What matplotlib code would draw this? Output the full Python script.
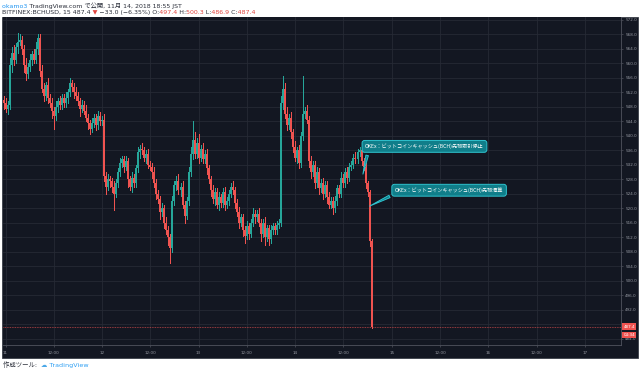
import matplotlib
matplotlib.use('Agg')
import matplotlib.pyplot as plt
from matplotlib.patches import Rectangle
from matplotlib.transforms import Bbox, TransformedBbox

# BCHUSD, 30-minute candles (starting Nov 10 23:30)
first_open = 550.0
closes = [
    549.0, 547.5, 548.5, 559.5, 563.0, 561.0, 564.5, 566.0, 566.5, 564.0,
    559.5, 557.0, 559.0, 561.0, 562.5, 561.0, 564.0, 567.0, 558.0, 553.0,
    551.0, 554.0, 550.5, 549.0, 547.0, 545.5, 548.0, 549.5, 548.5, 550.5,
    549.0, 550.5, 552.0, 554.5, 553.5, 552.0, 551.0, 549.5, 547.5, 548.5,
    547.0, 545.0, 543.5, 542.0, 543.5, 545.0, 543.0, 545.5, 544.0, 544.5,
    529.0, 526.0, 528.0, 527.5, 526.0, 524.0, 527.0, 530.0, 532.5, 533.5,
    531.5, 533.0, 528.0, 526.0, 528.5, 527.0, 531.0, 535.5, 536.5, 536.0,
    534.0, 535.0, 532.0, 531.5, 530.0, 527.0, 524.0, 522.5, 519.0, 520.0,
    516.0, 514.0, 512.0, 509.0, 522.0, 526.5, 527.5, 525.0, 526.0, 521.0,
    518.0, 522.0, 530.0, 535.0, 539.0, 535.0, 538.0, 534.0, 536.5, 533.5,
    535.0, 531.0, 528.0, 525.0, 522.5, 524.5, 521.0, 523.0, 521.5, 524.5,
    521.0, 522.0, 524.0, 526.0, 525.0, 521.5, 519.0, 516.0, 517.5, 514.0,
    512.5, 515.0, 513.0, 516.0, 518.5, 517.5, 518.5, 516.0, 513.0, 516.0,
    512.0, 514.5, 511.5, 514.0, 515.0, 514.0, 515.5, 516.0, 549.0, 553.0,
    546.0, 543.0, 545.0, 541.0, 537.0, 534.0, 536.0, 532.5, 540.0, 546.0,
    547.0, 544.5, 533.0, 530.0, 532.0, 527.0, 530.0, 525.5, 527.0, 524.0,
    526.5, 523.0, 521.0, 522.0, 520.0, 522.0, 525.5, 524.0, 528.5, 527.0,
    530.0, 528.5, 531.5, 532.0, 534.0, 533.5, 535.5, 536.0, 533.0, 531.5,
    527.0, 524.5, 511.0, 487.4,
]
# wick length above max(open, close) and below min(open, close)
hi_wick = [
    1.0, 1.5, 1.0, 2.0, 1.5, 2.0, 1.0, 2.5, 1.5, 1.0,
    1.0, 2.0, 1.0, 1.5, 1.0, 1.5, 2.0, 1.0, 1.0, 1.5,
    1.5, 1.0, 2.0, 1.0, 1.5, 1.0, 1.5, 1.0, 1.5, 1.0,
    1.0, 1.5, 1.0, 1.5, 1.0, 1.0, 1.5, 1.0, 1.0, 1.5,
    1.0, 1.5, 1.0, 1.0, 1.5, 1.0, 1.0, 1.5, 1.0, 1.0,
    1.5, 1.0, 1.5, 1.0, 1.0, 1.5, 1.0, 1.0, 1.5, 1.0,
    1.0, 1.5, 1.0, 1.0, 1.5, 1.0, 1.0, 1.5, 1.0, 1.5,
    1.0, 1.0, 1.5, 1.0, 1.0, 1.5, 1.0, 1.0, 1.0, 1.5,
    1.0, 1.5, 1.0, 1.0, 1.5, 1.0, 1.5, 2.0, 1.0, 1.5,
    1.0, 1.0, 1.5, 2.0, 5.0, 2.0, 1.5, 2.5, 1.0, 1.5,
    1.0, 1.5, 1.0, 1.0, 1.5, 1.0, 1.0, 1.5, 1.0, 1.0,
    1.5, 1.0, 1.0, 1.0, 1.5, 1.0, 1.0, 1.5, 1.0, 1.0,
    1.0, 1.5, 1.0, 1.0, 1.5, 1.0, 1.0, 1.5, 1.0, 1.0,
    1.5, 1.0, 1.0, 1.5, 1.0, 1.0, 1.0, 1.0, 2.0, 3.5,
    1.5, 2.0, 1.0, 1.5, 1.0, 1.5, 1.0, 1.5, 1.0, 10.5,
    1.0, 1.5, 1.0, 1.5, 1.0, 1.0, 1.5, 1.0, 1.0, 1.5,
    1.0, 1.0, 1.5, 1.0, 1.0, 1.5, 1.0, 1.0, 1.5, 1.0,
    1.0, 1.5, 1.0, 1.0, 1.0, 1.5, 1.0, 1.0, 1.0, 1.0,
    1.0, 0.5, 0.5, 0.5,
]
lo_wick = [
    1.5, 1.0, 1.5, 1.0, 2.0, 1.5, 1.0, 1.5, 1.0, 1.5,
    2.0, 1.5, 1.0, 1.0, 1.5, 1.0, 1.0, 1.5, 1.5, 1.0,
    1.5, 1.0, 1.5, 1.0, 2.0, 3.5, 1.0, 1.5, 1.0, 1.0,
    1.0, 1.0, 1.5, 1.0, 1.0, 1.5, 1.0, 1.0, 2.0, 1.0,
    1.0, 1.0, 1.5, 1.5, 1.0, 1.0, 1.5, 1.0, 1.0, 1.0,
    1.5, 2.0, 1.0, 1.5, 1.5, 4.5, 1.0, 1.0, 1.0, 1.0,
    1.5, 1.0, 2.0, 1.0, 1.5, 1.0, 1.0, 1.0, 1.5, 1.0,
    1.0, 1.5, 1.0, 1.0, 1.5, 1.0, 1.5, 1.0, 2.0, 1.0,
    1.5, 1.0, 2.0, 4.0, 1.0, 1.0, 1.5, 1.0, 1.5, 1.0,
    2.0, 1.0, 1.0, 1.0, 1.5, 1.0, 1.0, 1.5, 1.0, 1.0,
    1.0, 1.5, 1.0, 1.5, 1.0, 1.5, 1.0, 1.5, 1.0, 1.0,
    1.5, 1.0, 1.0, 1.0, 1.0, 1.5, 1.0, 1.5, 1.0, 1.5,
    2.0, 1.0, 1.5, 1.0, 1.0, 1.5, 1.0, 1.0, 2.0, 1.0,
    2.0, 1.0, 1.5, 1.0, 1.0, 1.0, 1.0, 1.0, 1.0, 1.5,
    1.0, 1.5, 1.0, 1.5, 1.5, 1.0, 1.5, 1.5, 1.0, 1.0,
    1.0, 1.0, 1.5, 1.5, 1.0, 1.5, 1.0, 1.5, 1.0, 1.5,
    1.0, 1.5, 1.0, 1.0, 1.5, 1.0, 1.0, 1.0, 1.0, 1.0,
    1.0, 1.5, 1.0, 1.0, 1.0, 1.0, 1.0, 1.0, 1.0, 1.0,
    1.5, 1.0, 1.5, 0.5,
]
last_price = 487.4
countdown = '04:34'

x_ticks = [0, 12, 24, 36, 48, 60, 72, 84, 96, 108, 120, 132, 144]
x_labels = ['11', '12:00', '12', '12:00', '13', '12:00', '14', '12:00',
            '15', '12:00', '16', '12:00', '17']
y_ticks = list(range(484, 573, 4))

notes = [
    'OKEx：ビットコインキャッシュ(BCH)先物取引停止',
    'OKEx：ビットコインキャッシュ(BCH)先物清算',
]
note_tips = [(88.7, 528.7), (89.9, 520.3)]
note_boxes = [(89.4, 537.1), (96.8, 525.0)]

BG = '#131722'
GRID = '#262a35'
TXT = '#9598a1'
UP = '#26a69a'
DOWN = '#ef5350'
FONTS = ['Noto Sans CJK JP', 'DejaVu Sans']
HDR_FONTS = ['DejaVu Sans', 'Noto Sans CJK JP']

fig = plt.figure(figsize=(6.4, 3.71), dpi=100)
fig.patch.set_facecolor('white')
fig.add_artist(Rectangle((2 / 640, 13 / 371), 636 / 640, 341 / 371,
                         transform=fig.transFigure, facecolor=BG,
                         edgecolor='#3a3e48', linewidth=0.6, zorder=0))

ax = fig.add_axes([2.5 / 640, 26 / 371, 618.5 / 640, 328 / 371])
ax.set_facecolor(BG)

# candles: crisp (non antialiased) wick and body so red/teal don't blend to grey
times = [-0.5 + 0.5 * i for i in range(len(closes))]
opens = [first_open] + closes[:-1]
for t, o, c, hw, lw in zip(times, opens, closes, hi_wick, lo_wick):
    col = UP if c >= o else DOWN
    top, bot = max(o, c), min(o, c)
    ax.vlines(t, bot - lw, top + hw, color=col, linewidth=0.72,
              antialiased=False, zorder=3)
    ax.vlines(t, bot, max(top, bot + 0.2), color=col, linewidth=1.1,
              antialiased=False, zorder=3)

ax.axhline(last_price, color=DOWN, linestyle=(0, (1, 1)), linewidth=0.6,
           alpha=0.8, zorder=2)

ax.set_xlim(-0.75, 153.0)
ax.set_ylim(482.3, 572.8)
ax.set_xticks(x_ticks)
ax.set_xticklabels(x_labels)
ax.set_yticks(y_ticks)
# the 488.0 label sits under the last-price tag, as in TradingView
ax.set_yticklabels(['' if v == 488 else f'{v:.1f}' for v in y_ticks])
ax.yaxis.tick_right()
ax.tick_params(axis='both', colors='#50535e', labelcolor=TXT, labelsize=3,
               length=1.5, width=0.5, pad=1.5)
ax.tick_params(axis='x', pad=2.5)
ax.grid(True, color=GRID, linewidth=0.6)
ax.set_axisbelow(True)
for side in ['top', 'left']:
    ax.spines[side].set_visible(False)
for side in ['right', 'bottom']:
    ax.spines[side].set_color('#50535e')
    ax.spines[side].set_linewidth(0.6)

# last price labels on the price scale
ax.text(1.004, last_price, f'{last_price:.1f}', transform=ax.get_yaxis_transform(),
        fontsize=3, color='white', ha='left', va='center', zorder=5,
        bbox=dict(boxstyle='square,pad=0.3', fc=DOWN, ec='none'), clip_on=False)
ax.text(1.004, last_price - 2.3, countdown, transform=ax.get_yaxis_transform(),
        fontsize=3, color='white', ha='left', va='center', zorder=5,
        bbox=dict(boxstyle='square,pad=0.3', fc=DOWN, ec='none'), clip_on=False)

# callouts
for label, tip, box in zip(notes, note_tips, note_boxes):
    ax.annotate(label, xy=tip, xytext=box, fontsize=3.7, color='white',
                family=FONTS, ha='left', va='center', zorder=6,
                bbox=dict(boxstyle='round,pad=0.6,rounding_size=0.5',
                          fc='#107e8a', ec='#2fc3cf', lw=0.7),
                arrowprops=dict(arrowstyle='wedge,tail_width=0.5,shrink_factor=0.5',
                                fc='#107e8a', ec='#2fc3cf', lw=0.7,
                                relpos=(0.03, 0.15)))


def advance(s, size):
    # advance width of s (figure fraction); the bars on both sides cancel out
    r = fig.canvas.get_renderer()
    t = fig.text(0, 0, '|' + s + '|', fontsize=size, family=HDR_FONTS)
    u = fig.text(0, 0, '||', fontsize=size, family=HDR_FONTS)
    w = t.get_window_extent(renderer=r).width - u.get_window_extent(renderer=r).width
    t.remove()
    u.remove()
    return w / fig.bbox.width


def colored_line(x, y, pieces, size):
    # the whole line is drawn once per colour and clipped to that colour's span,
    # so the spacing is that of one ordinary string
    full = ''.join(s for s, _ in pieces)
    edges = [0.0]
    acc = ''
    for s, _ in pieces[:-1]:
        acc += s
        edges.append(x + advance(acc.rstrip(), size) + 0.4 / fig.bbox.width)
    edges.append(1.0)
    for (s, c), a, b in zip(pieces, edges[:-1], edges[1:]):
        t = fig.text(x, y, full, color=c, fontsize=size, family=HDR_FONTS,
                     ha='left', va='center')
        t.set_clip_box(TransformedBbox(Bbox([[a, 0], [b, 1]]), fig.transFigure))
        t.set_clip_on(True)


RED = '#e0443f'
DARK = '#2a2e39'
colored_line(2 / 640, 1 - 5.5 / 371, [
    ('okamo3', '#2196f3'),
    (' TradingView.com で公開, 11月 14, 2018 18:55 JST', DARK)], 4.5)
colored_line(2 / 640, 1 - 12.5 / 371, [
    ('BITFINEX:BCHUSD, 15 487.4', DARK), (' ▼', RED),
    (' −33.0 (−6.35%) O:', DARK), ('497.4', RED), (' H:', DARK),
    ('500.3', RED), (' L:', DARK), ('486.9', RED), (' C:', DARK),
    ('487.4', RED)], 4.5)
colored_line(3 / 640, 6 / 371, [
    ('作成ツール:', DARK), ('  ☁', '#4aa8e8'), (' TradingView', '#2e9ff3')], 4.6)

fig.savefig('out.png', dpi=100, facecolor=fig.get_facecolor())
